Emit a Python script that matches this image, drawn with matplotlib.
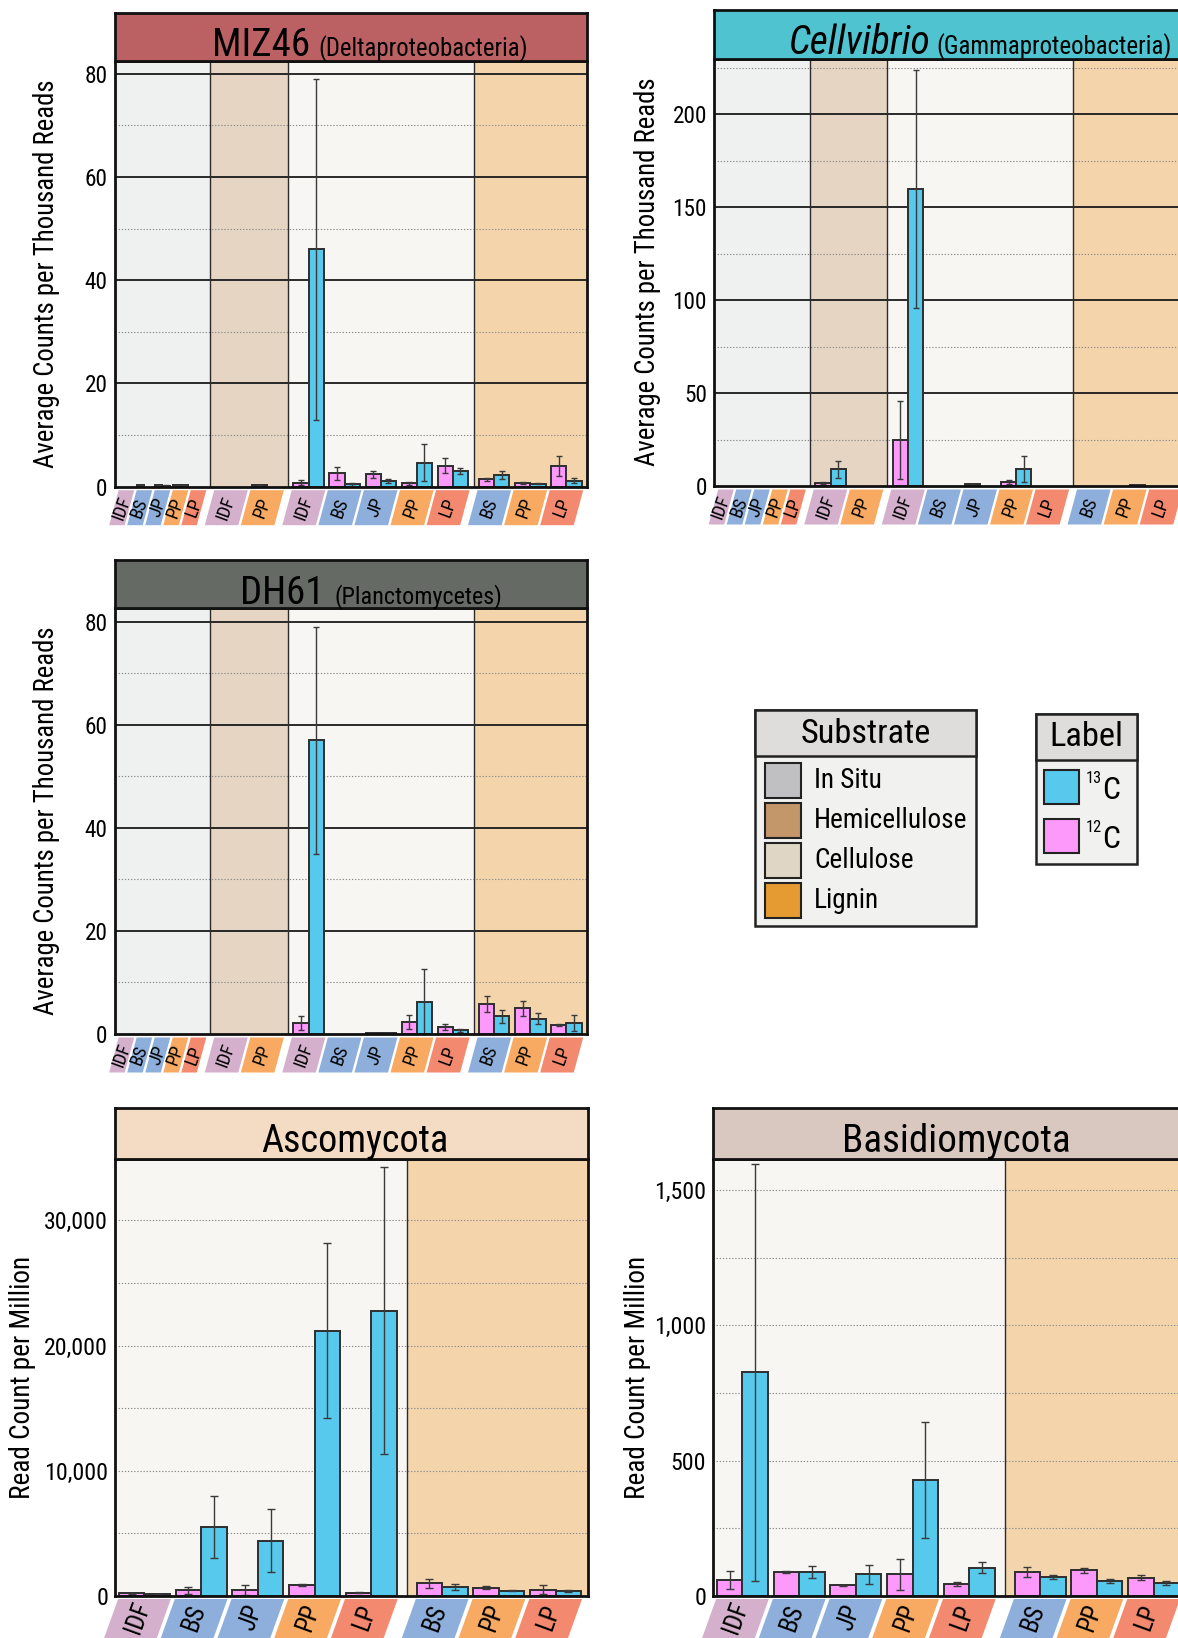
import numpy as np
import matplotlib
matplotlib.use("Agg")
import matplotlib.pyplot as plt
from matplotlib import font_manager
from matplotlib.patches import Rectangle, Polygon

W, H, DPI = 1178, 1638, 100


def _weight(f):
    try:
        return int(f.weight)
    except (TypeError, ValueError):
        return 400


def pick_font():
    """Prefer a narrow sans face; fall back to the narrowest common one."""
    entries = [f for f in font_manager.fontManager.ttflist
               if f.style == "normal" and 350 <= _weight(f) <= 500]
    names = {f.name for f in entries}
    for n in ["Liberation Sans Narrow", "Roboto Condensed", "Noto Sans Condensed",
              "DejaVu Sans Condensed", "Open Sans Condensed", "Noto Sans SemiCondensed"]:
        if n in names:
            return n, "normal"
    for f in entries:
        if str(f.stretch) in ("condensed", "semi-condensed") and "Sans" in f.name \
                and "CJK" not in f.name and "Mono" not in f.name:
            return f.name, str(f.stretch)
    for n in ["Roboto", "Liberation Sans", "DejaVu Sans"]:
        if n in names:
            return n, "normal"
    return "DejaVu Sans", "normal"


FONT, STRETCH = pick_font()
plt.rcParams["font.family"] = [FONT, "DejaVu Sans"]
plt.rcParams["font.stretch"] = STRETCH

nan = np.nan

# ---------------- categories ----------------
bact_substrate = ["In Situ"] * 5 + ["Hemicellulose"] * 2 + ["Cellulose"] * 5 + ["Lignin"] * 3
bact_source = ["IDF", "BS", "JP", "PP", "LP", "IDF", "PP",
               "IDF", "BS", "JP", "PP", "LP", "BS", "PP", "LP"]
fungi_substrate = ["Cellulose"] * 5 + ["Lignin"] * 3
fungi_source = ["IDF", "BS", "JP", "PP", "LP", "BS", "PP", "LP"]

# ---------------- MIZ46 (counts per thousand reads) ----------------
miz46_c12 = [nan, 0.3, 0.25, 0.3, nan, nan, 0.3, 0.8, 2.6, 2.4, 0.65, 4.1, 1.4, 0.8, 4.0]
miz46_c12_err = [nan, 0.1, 0.1, 0.1, nan, nan, 0.1, 0.5, 1.3, 0.65, 0.3, 1.4, 0.3, 0.2, 1.95]
miz46_c13 = [nan, nan, 0.2, 0.3, nan, nan, nan, 46.0, 0.5, 1.15, 4.65, 3.1, 2.3, 0.55, 1.2]
miz46_c13_err = [nan, nan, 0.1, 0.1, nan, nan, nan, 33.0, 0.3, 0.4, 3.6, 0.6, 0.75, 0.1, 0.55]

# ---------------- Cellvibrio ----------------
cell_c12 = [nan] * 5 + [1.6, nan] + [24.8, nan, 1.0, 2.3, nan] + [nan, nan, nan]
cell_c12_err = [nan] * 5 + [0.7, nan] + [21.0, nan, 0.3, 1.0, nan] + [nan, nan, nan]
cell_c13 = [nan] * 5 + [9.1, nan] + [160.0, nan, nan, 9.1, nan] + [nan, 0.5, nan]
cell_c13_err = [nan] * 5 + [4.6, nan] + [64.0, nan, nan, 7.0, nan] + [nan, 0.2, nan]

# ---------------- DH61 ----------------
dh61_c12 = [nan] * 7 + [2.1, nan, 0.2, 2.3, 1.36] + [5.8, 5.0, 1.75]
dh61_c12_err = [nan] * 7 + [1.3, nan, 0.0, 1.3, 0.6] + [1.5, 1.5, 0.15]
dh61_c13 = [nan] * 7 + [57.0, nan, 0.2, 6.3, 0.72] + [3.4, 3.0, 2.1]
dh61_c13_err = [nan] * 7 + [22.0, nan, 0.0, 6.4, 0.25] + [1.2, 1.0, 1.5]

# ---------------- Ascomycota (read count per million) ----------------
asco_c12 = [200, 460, 480, 890, 270, 1020, 670, 510]
asco_c12_err = [60, 280, 410, 100, 40, 360, 120, 330]
asco_c13 = [150, 5500, 4420, 21200, 22800, 725, 430, 430]
asco_c13_err = [40, 2450, 2500, 7000, 11450, 230, 60, 80]

# ---------------- Basidiomycota ----------------
basi_c12 = [59, 90, 39.5, 81, 44, 89, 95, 68]
basi_c12_err = [32, 4, 2, 57, 7, 17, 10, 8]
basi_c13 = [827, 90, 81, 429, 104, 70, 54, 49]
basi_c13_err = [770, 22, 35, 213, 20, 8, 7, 7]

# ---------------- styling ----------------
C12 = "#fd99fb"
C13 = "#56c9ec"
REGION_BG = {"In Situ": "#eff1f0", "Hemicellulose": "#e6d5c3",
             "Cellulose": "#f7f6f2", "Lignin": "#f4d5ab"}
TAG_COLORS = {"IDF": "#d4b0cc", "BS": "#8eafdb", "JP": "#8eafdb",
              "PP": "#f8aa62", "LP": "#f3896e"}
SLOT_WIDTH = {"In Situ": 0.5}
LEGEND_SUBSTRATE = ["In Situ", "Hemicellulose", "Cellulose", "Lignin"]
LEGEND_SUBSTRATE_COLORS = ["#c0c0c2", "#c4976b", "#e0d6c5", "#e69a32"]

fig = plt.figure(figsize=(W / DPI, H / DPI), dpi=DPI)
fig.patch.set_facecolor("white")
renderer = fig.canvas.get_renderer()


def fit(s, target, style="normal", ref=20.0, cap=None, grow=1.0):
    """Font size at which string s spans `target` pixels (times `grow`)."""
    t = fig.text(0, 0, s, fontsize=ref, style=style)
    w = t.get_window_extent(renderer).width
    t.remove()
    size = ref * target / w * grow
    return min(size, cap) if cap else size


def ax_px(left, top, right, bottom):
    return fig.add_axes([left / W, 1 - bottom / H, (right - left) / W, (bottom - top) / H])


def to_fig(x, y):
    return x / W, 1 - y / H


def rect_px(x0, y0, x1, y1, **kw):
    r = Rectangle((x0 / W, 1 - y1 / H), (x1 - x0) / W, (y1 - y0) / H,
                  transform=fig.transFigure, **kw)
    fig.add_artist(r)
    return r


def layout(substrates, gap):
    starts, widths, bounds = [], [], []
    x, prev = 0.0, None
    for s in substrates:
        w = SLOT_WIDTH.get(s, 1.0)
        if prev is not None and s != prev:
            bounds.append(x + gap / 2)
            x += gap
        starts.append(x)
        widths.append(w)
        x += w
        prev = s
    return np.array(starts), np.array(widths), bounds, x


def dotted(ax, v):
    ax.axhline(v, color="#8c8c8c", lw=0.8, ls=(0, (1.2, 1.6)), zorder=1)


TICK_FS_BACT = fit("200", 30, cap=19, grow=1.15)
TICK_FS_FUNGI = fit("30,000", 57, cap=19, grow=1.12)
YLAB_FS_BACT = fit("Average Counts per Thousand Reads", 369, cap=22, grow=1.05)
YLAB_FS_FUNGI = fit("Read Count per Million", 231, cap=22, grow=1.05)
TAG_FS_TOP = fit("IDF", 23, cap=14, grow=1.05)
TAG_FS_BOTTOM = fit("IDF", 32, cap=20)


def draw_panel(p):
    left, right, strip_top, top, bottom = p["box"]
    ax = ax_px(left, top, right, bottom)
    ax.set_facecolor("none")
    starts, widths, bounds, total = layout(p["substrate"], p["gap"])
    x0, x1 = -p["pad"][0], total + p["pad"][1]
    ax.set_xlim(x0, x1)
    ax.set_ylim(0, p["ymax"])

    regions = list(dict.fromkeys(p["substrate"]))
    edges = [x0] + bounds + [x1]
    for reg, a, b in zip(regions, edges[:-1], edges[1:]):
        ax.axvspan(a, b, color=REGION_BG[reg], zorder=0, lw=0)
    for b in bounds:
        ax.axvline(b, color="#2b2b2b", lw=1.0, zorder=1.5)

    for v in p["grid_minor"]:
        dotted(ax, v)
    for v in p["grid_major"]:
        if p["solid_major"]:
            ax.axhline(v, color="#1a1a1a", lw=1.3, zorder=1.2)
        else:
            dotted(ax, v)

    centers = starts + widths / 2
    bw = widths * p["bar_frac"]
    for vals, errs, sign, col in ((p["c12"], p["e12"], -1, C12),
                                  (p["c13"], p["e13"], 1, C13)):
        vals = np.asarray(vals, float)
        errs = np.asarray(errs, float)
        ok = ~np.isnan(vals)
        xs = centers + sign * bw / 2
        ax.bar(xs[ok], vals[ok], width=bw[ok], color=col, edgecolor="#2e2e2e",
               lw=1.4, zorder=3)
        oke = ok & ~np.isnan(errs) & (np.nan_to_num(errs) > 0)
        ax.errorbar(xs[oke], vals[oke], yerr=errs[oke], fmt="none", ecolor="#3a3a3a",
                    elinewidth=1.0, capsize=p["capsize"], capthick=1.0, zorder=4)

    for s in ax.spines.values():
        s.set_linewidth(2)
        s.set_color("#111111")
        s.set_zorder(6)
    ax.set_xticks([])
    ax.set_yticks(p["ticks"])
    ax.set_yticklabels([p["fmt"](t) for t in p["ticks"]])
    ax.tick_params(axis="y", length=0, pad=5, labelsize=p["tick_fs"])

    # title strip
    sax = ax_px(left, strip_top, right, top)
    sax.set_facecolor(p["strip_color"])
    sax.set_xticks([])
    sax.set_yticks([])
    for s in sax.spines.values():
        s.set_linewidth(2)
        s.set_color("#111111")

    base = top - p["title_base"]
    mx, mw = p["title_span"]
    fs_main = fit(p["title"], mw, style=p["title_style"], cap=36, grow=1.03)
    if p["subtitle"]:
        fig.text(*to_fig(mx, base), p["title"], fontsize=fs_main, style=p["title_style"],
                 ha="left", va="baseline")
        sx, sw = p["subtitle_span"]
        fig.text(*to_fig(sx, base), p["subtitle"], fontsize=fit(p["subtitle"], sw, cap=21),
                 ha="left", va="baseline")
    else:
        fig.text(*to_fig(mx, base), p["title"], fontsize=fs_main, style=p["title_style"],
                 ha="center", va="baseline")

    # y label
    fig.text(*to_fig(p["ylabel_x"], (top + bottom) / 2), p["ylabel"], rotation=90,
             ha="center", va="center", fontsize=p["ylabel_fs"])

    # slanted category tags under the axis
    y_top = bottom + p["tag_off"]
    h, sl, g = p["tag_h"], p["tag_slant"], p["tag_gap"]
    for src, st, w in zip(p["source"], starts, widths):
        xa = ax.transData.transform((st, 0))[0] + g / 2
        xb = ax.transData.transform((st + w, 0))[0] - g / 2
        pts = [(xa, y_top), (xb, y_top), (xb - sl * h, y_top + h), (xa - sl * h, y_top + h)]
        fig.add_artist(Polygon([to_fig(*q) for q in pts], closed=True,
                               transform=fig.transFigure, facecolor=TAG_COLORS[src],
                               edgecolor="none"))
        cy = y_top + p["tag_text_y"]
        cx = (xa + xb) / 2 - sl * (cy - y_top)
        fig.text(*to_fig(cx, cy), src, rotation=70, rotation_mode="anchor",
                 ha="center", va="center", fontsize=p["tag_fs"])
    return ax


plain = lambda t: f"{t:g}"
comma = lambda t: f"{t:,.0f}"

bact_common = dict(substrate=bact_substrate, source=bact_source, gap=0.15, pad=(0.08, 0.07),
                   bar_frac=0.42, capsize=2, solid_major=True, fmt=plain,
                   tick_fs=TICK_FS_BACT, ylabel_fs=YLAB_FS_BACT,
                   ylabel="Average Counts per Thousand Reads", title_style="normal",
                   title_base=4.3, tag_off=3.5, tag_h=35, tag_slant=0.27, tag_gap=2.5,
                   tag_fs=TAG_FS_TOP, tag_text_y=17.5)
fungi_common = dict(substrate=fungi_substrate, source=fungi_source, gap=0.25, pad=(0.02, 0.07),
                    bar_frac=0.45, capsize=3, solid_major=False, fmt=comma,
                    tick_fs=TICK_FS_FUNGI, ylabel_fs=YLAB_FS_FUNGI,
                    ylabel="Read Count per Million", title_style="normal", subtitle="",
                    title_base=7, tag_off=3, tag_h=60, tag_slant=0.36, tag_gap=4,
                    tag_fs=TAG_FS_BOTTOM, tag_text_y=19)

panels = [
    dict(bact_common, box=(114.5, 587, 12.5, 60.7, 486.7), ymax=82.5,
         ticks=[0, 20, 40, 60, 80], grid_major=[20, 40, 60, 80], grid_minor=[10, 30, 50, 70],
         c12=miz46_c12, e12=miz46_c12_err, c13=miz46_c13, e13=miz46_c13_err,
         title="MIZ46", subtitle="(Deltaproteobacteria)", strip_color="#bb6163",
         title_span=(212, 95), subtitle_span=(318.5, 209), ylabel_x=47),
    dict(bact_common, box=(714, 1186.5, 10.4, 58.5, 486), ymax=230,
         ticks=[0, 50, 100, 150, 200], grid_major=[50, 100, 150, 200],
         grid_minor=[25, 75, 125, 175, 225],
         c12=cell_c12, e12=cell_c12_err, c13=cell_c13, e13=cell_c13_err,
         title="Cellvibrio", subtitle="(Gammaproteobacteria)", strip_color="#4fc3cf",
         title_style="italic", title_span=(788.5, 137), subtitle_span=(936.7, 235),
         ylabel_x=647.5),
    dict(bact_common, box=(114.5, 587, 559.7, 607.8, 1034), ymax=82.7,
         ticks=[0, 20, 40, 60, 80], grid_major=[20, 40, 60, 80], grid_minor=[10, 30, 50, 70],
         c12=dh61_c12, e12=dh61_c12_err, c13=dh61_c13, e13=dh61_c13_err,
         title="DH61", subtitle="(Planctomycetes)", strip_color="#666a65",
         title_span=(240.3, 81.5), subtitle_span=(334.2, 168), ylabel_x=47),
    dict(fungi_common, box=(115, 588, 1108, 1159, 1596), ymax=34900,
         ticks=[0, 10000, 20000, 30000], grid_major=[10000, 20000, 30000],
         grid_minor=[5000, 15000, 25000],
         c12=asco_c12, e12=asco_c12_err, c13=asco_c13, e13=asco_c13_err,
         title="Ascomycota", strip_color="#f4dcc4", title_span=(355, 182), ylabel_x=23),
    dict(fungi_common, box=(713, 1186, 1108, 1159, 1596), ymax=1615,
         ticks=[0, 500, 1000, 1500], grid_major=[500, 1000, 1500],
         grid_minor=[250, 750, 1250],
         c12=basi_c12, e12=basi_c12_err, c13=basi_c13, e13=basi_c13_err,
         title="Basidiomycota", strip_color="#d8c8bf", title_span=(956.6, 222),
         ylabel_x=637),
]

for p in panels:
    draw_panel(p)

# ---------------- legends ----------------
head_fs = fit("Substrate", 125, cap=27, grow=1.04)
entry_fs = fit("Hemicellulose", 148, cap=22, grow=1.03)

# Substrate
rect_px(755, 710, 976, 926, facecolor="#f1f1ef", edgecolor="#222222", lw=1.8)
rect_px(755, 710, 976, 755.6, facecolor="#dedddc", edgecolor="#222222", lw=1.8)
fig.text(*to_fig(865.5, 734), "Substrate", ha="center", va="center", fontsize=head_fs)
rows = [780.5, 820.5, 860.5, 900.5]
for name, col, yc in zip(LEGEND_SUBSTRATE, LEGEND_SUBSTRATE_COLORS, rows):
    rect_px(765, yc - 17.5, 800.6, yc + 17.5, facecolor=col, edgecolor="#222222", lw=1.5)
    fig.text(*to_fig(814, yc), name, ha="left", va="center", fontsize=entry_fs)

# Label
label_fs = fit("Label", 71, cap=27, grow=1.04)
c_fs = fit("C", 18, cap=28)
iso_fs = fit("13", 16, cap=15)
rect_px(1035.6, 713.5, 1136.6, 864, facecolor="#f1f1ef", edgecolor="#222222", lw=1.8)
rect_px(1035.6, 713.5, 1136.6, 759.6, facecolor="#dedddc", edgecolor="#222222", lw=1.8)
fig.text(*to_fig(1086, 737), "Label", ha="center", va="center", fontsize=label_fs)
for iso, col, yc in (("13", C13, 787), ("12", C12, 835.5)):
    rect_px(1044, yc - 17, 1079, yc + 17, facecolor=col, edgecolor="#222222", lw=1.5)
    fig.text(*to_fig(1086, yc - 1), iso, ha="left", va="bottom", fontsize=iso_fs)
    fig.text(*to_fig(1102.5, yc + 12), "C", ha="left", va="baseline", fontsize=c_fs)

fig.savefig("out.png", dpi=DPI, facecolor="white")
